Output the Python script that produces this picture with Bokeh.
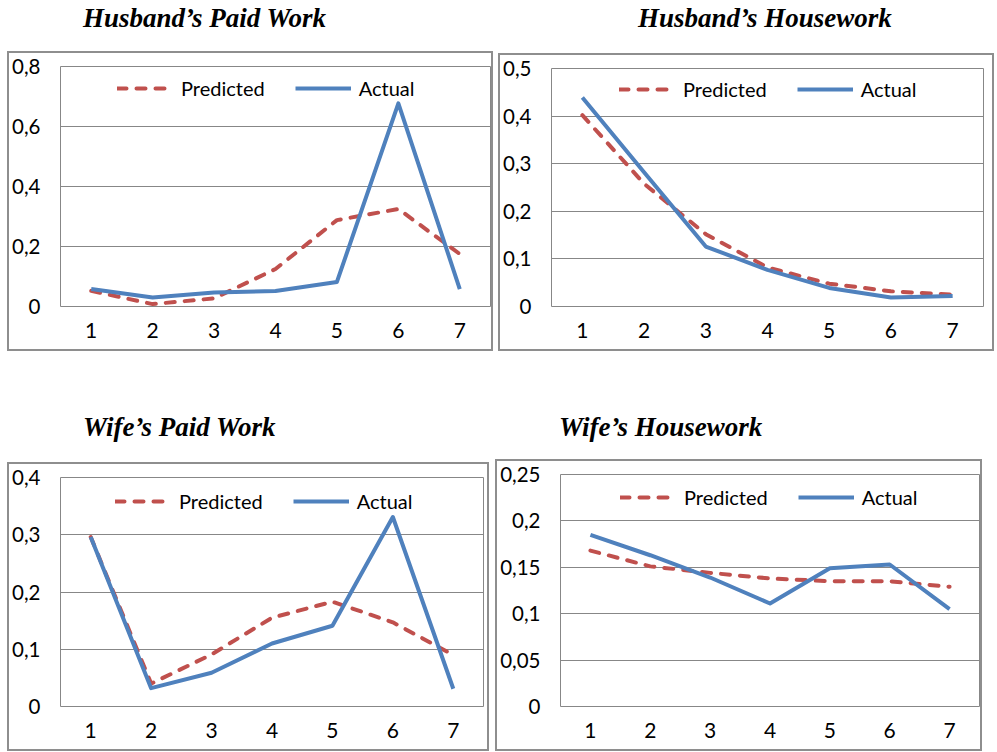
from bokeh.plotting import figure
from bokeh.models import Range1d, FixedTicker, Div, Spacer
from bokeh.layouts import column, row
from bokeh.embed import file_html
from bokeh.resources import INLINE

# ---------------- data ----------------
x_vals = [1, 2, 3, 4, 5, 6, 7]
x_labels = ["1", "2", "3", "4", "5", "6", "7"]
series_names = ["Predicted", "Actual"]

titles = ["Husband’s Paid Work", "Husband’s Housework", "Wife’s Paid Work", "Wife’s Housework"]

husband_paid_pred = [0.052, 0.008, 0.027, 0.125, 0.288, 0.325, 0.175]
husband_paid_act = [0.058, 0.030, 0.047, 0.052, 0.082, 0.677, 0.058]
husband_paid_ticks = [0, 0.2, 0.4, 0.6, 0.8]
husband_paid_labels = ["0", "0,2", "0,4", "0,6", "0,8"]

husband_house_pred = [0.402, 0.258, 0.152, 0.082, 0.048, 0.032, 0.025]
husband_house_act = [0.439, 0.282, 0.126, 0.077, 0.039, 0.019, 0.022]
husband_house_ticks = [0, 0.1, 0.2, 0.3, 0.4, 0.5]
husband_house_labels = ["0", "0,1", "0,2", "0,3", "0,4", "0,5"]

wife_paid_pred = [0.296, 0.040, 0.091, 0.155, 0.183, 0.147, 0.090]
wife_paid_act = [0.296, 0.032, 0.059, 0.110, 0.141, 0.331, 0.031]
wife_paid_ticks = [0, 0.1, 0.2, 0.3, 0.4]
wife_paid_labels = ["0", "0,1", "0,2", "0,3", "0,4"]

wife_house_pred = [0.168, 0.151, 0.144, 0.138, 0.135, 0.135, 0.129]
wife_house_act = [0.185, 0.163, 0.139, 0.111, 0.149, 0.153, 0.105]
wife_house_ticks = [0, 0.05, 0.1, 0.15, 0.2, 0.25]
wife_house_labels = ["0", "0,05", "0,1", "0,15", "0,2", "0,25"]

# ---------------- style ----------------
RED = "#C0504D"
BLUE = "#4F81BD"
GRID = "#878787"
BOX = "#8e8e8e"
FONT = "Lato"


def bar(bw, bh, color=BOX):
    return Spacer(width=bw, height=bh, margin=0,
                  styles={"background-color": color} if color else {})


def panel(pred, act, ticks, labels, W, H, ml, mr, mt, mb, leg_xy):
    w, h = W - 4, H - 4
    p = figure(width=w, height=h, x_range=Range1d(0.5, 7.5),
               y_range=Range1d(ticks[0], ticks[-1]),
               output_backend="svg", toolbar_location=None, margin=0,
               min_border_left=ml, min_border_right=mr,
               min_border_top=mt, min_border_bottom=mb,
               background_fill_color="white", border_fill_color="white",
               outline_line_color=GRID, outline_line_width=1)
    p.line(x_vals, pred, color=RED, line_width=4, line_dash="9 10",
           line_cap="round", line_join="round", legend_label=series_names[0])
    p.line(x_vals, act, color=BLUE, line_width=4, line_join="round",
           legend_label=series_names[1])

    p.xgrid.visible = False
    p.ygrid.ticker = FixedTicker(ticks=ticks)
    p.ygrid.grid_line_color = GRID
    p.ygrid.grid_line_width = 1

    for ax in (p.xaxis[0], p.yaxis[0]):
        ax.axis_line_color = None
        ax.major_tick_line_color = None
        ax.minor_tick_line_color = None
        ax.major_tick_out = 0
        ax.major_tick_in = 0
        ax.minor_tick_out = 0
        ax.minor_tick_in = 0
        ax.major_label_text_font = FONT
        ax.major_label_text_color = "black"

    p.yaxis.ticker = FixedTicker(ticks=ticks)
    p.yaxis.major_label_overrides = {t: l for t, l in zip(ticks, labels)}
    p.yaxis.major_label_standoff = 20
    p.yaxis.major_label_text_font_size = "20.5px"

    p.xaxis.ticker = FixedTicker(ticks=x_vals)
    p.xaxis.major_label_overrides = {x: l for x, l in zip(x_vals, x_labels)}
    p.xaxis.major_label_standoff = 16
    p.xaxis.major_label_text_font_size = "21px"

    lg = p.legend[0]
    lg.location = leg_xy
    lg.orientation = "horizontal"
    lg.glyph_width = 56
    lg.label_standoff = 8
    lg.spacing = 30
    lg.padding = 0
    lg.margin = 0
    lg.border_line_alpha = 0
    lg.background_fill_alpha = 0
    lg.label_text_font = FONT
    lg.label_text_font_size = "20px"
    lg.label_text_color = "black"

    # grey chart-area frame around the panel
    return column(bar(W, 2),
                  row(bar(2, h), p, bar(2, h), spacing=0, margin=0),
                  bar(W, 2), spacing=0, margin=0)


def title_div(text, w, h, pl, pt):
    html = (f'<div style="padding-left:{pl}px;padding-top:{pt}px;'
            f"font-family:'Liberation Serif';font-weight:bold;font-style:italic;"
            f'font-size:27px;line-height:24px;white-space:nowrap;color:black;">{text}</div>')
    return Div(text=html, width=w, height=h, margin=0, styles={"overflow": "hidden"})


# panels: outer width/height, frame borders, legend position (from frame bottom-left)
p1 = panel(husband_paid_pred, husband_paid_act, husband_paid_ticks, husband_paid_labels,
           486, 300, 50, 1, 13, 43, (57, 206))
p2 = panel(husband_house_pred, husband_house_act, husband_house_ticks, husband_house_labels,
           496, 298, 49, 9, 13, 43, (68, 205))
p3 = panel(wife_paid_pred, wife_paid_act, wife_paid_ticks, wife_paid_labels,
           482, 289, 50, 4, 13, 43, (55, 193))
p4 = panel(wife_house_pred, wife_house_act, wife_house_ticks, wife_house_labels,
           487, 292, 61, 1, 13, 43, (60, 197))

t_row1 = row(title_div(titles[0], 498, 51, 83, 6), title_div(titles[1], 499, 51, 140, 6),
             spacing=0, margin=0)
r1 = row(bar(7, 300, None), p1, bar(5, 300, None),
         column(bar(496, 2, None), p2, spacing=0, margin=0),
         spacing=0, margin=0)
t_row2 = row(title_div(titles[2], 495, 108, 83, 64), title_div(titles[3], 502, 108, 64, 64),
             spacing=0, margin=0)
r2 = row(bar(7, 292, None), column(bar(482, 3, None), p3, spacing=0, margin=0),
         bar(6, 292, None), p4, spacing=0, margin=0)

layout = column(t_row1, r1, t_row2, r2, spacing=0, margin=0)

open("out.html", "w").write(file_html(layout, INLINE))
